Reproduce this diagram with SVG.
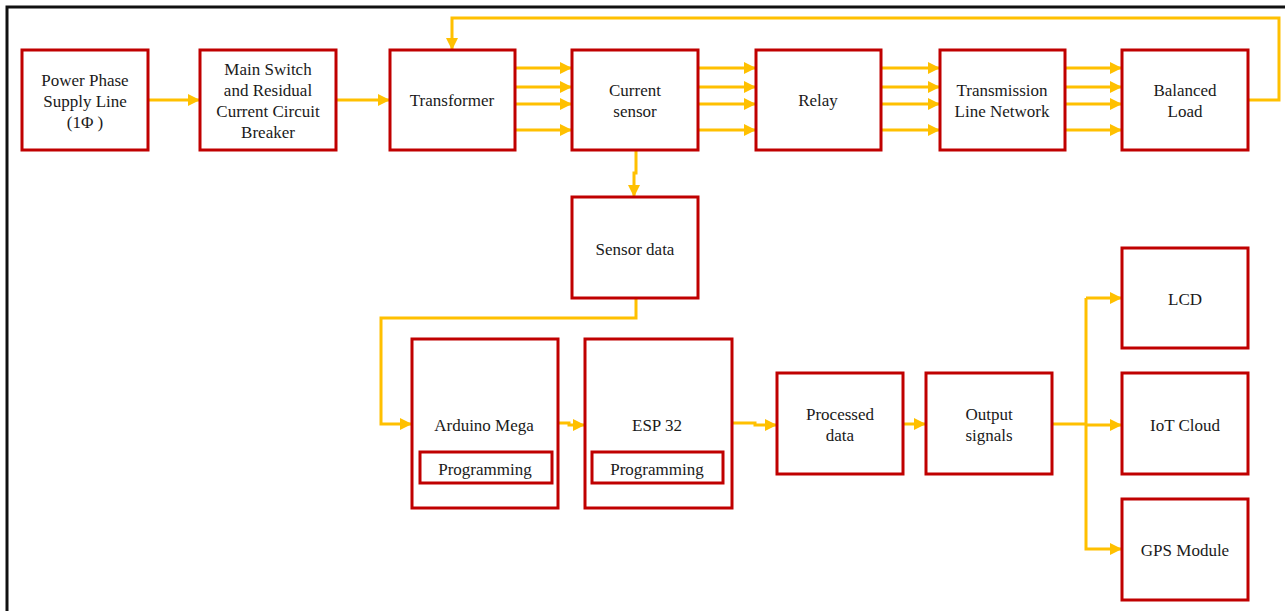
<svg xmlns="http://www.w3.org/2000/svg" width="1285" height="611" viewBox="0 0 1285 611">
<defs>
<style>
.n{fill:#fff;stroke:#C00000;stroke-width:3}
.t{font-family:"Liberation Serif","Times New Roman",Times,serif;font-size:17px;fill:#1a1a1a;text-anchor:middle}
.c{fill:none;stroke:#FFC000;stroke-width:3}
.a{marker-end:url(#ah)}
</style>
<marker id="ah" markerUnits="userSpaceOnUse" markerWidth="13" markerHeight="12" refX="12" refY="6" orient="auto">
<path d="M0,0 L12,6 L0,12 Z" fill="#FFC000"/>
</marker>
</defs>
<rect width="1285" height="611" fill="#fff"/>
<path d="M7,611 V7 H1285" fill="none" stroke="#111" stroke-width="3"/>
<g id="connectors">
<path class="c a" d="M148,100 H200"/>
<path class="c a" d="M336,100 H390"/>
<path class="c a" d="M515,68 H572"/>
<path class="c a" d="M515,87 H572"/>
<path class="c a" d="M515,104 H572"/>
<path class="c a" d="M515,130 H572"/>
<path class="c a" d="M698,68 H756"/>
<path class="c a" d="M698,87 H756"/>
<path class="c a" d="M698,104 H756"/>
<path class="c a" d="M698,130 H756"/>
<path class="c a" d="M881,68 H940"/>
<path class="c a" d="M881,87 H940"/>
<path class="c a" d="M881,104 H940"/>
<path class="c a" d="M881,130 H940"/>
<path class="c a" d="M1065,68 H1122"/>
<path class="c a" d="M1065,87 H1122"/>
<path class="c a" d="M1065,104 H1122"/>
<path class="c a" d="M1065,130 H1122"/>
<path class="c a" d="M1248,100 H1279 V18 H452 V50"/>
<path class="c a" d="M636,150 V173 H634 V197"/>
<path class="c a" d="M636,298 V318 H381 V424 H412"/>
<path class="c a" d="M558,423 H569 V425 H585"/>
<path class="c a" d="M732,423 H755 V425 H777"/>
<path class="c a" d="M903,424 H926"/>
<path class="c" d="M1052,424 H1086"/>
<path class="c a" d="M1086,298 V549 H1122"/>
<path class="c a" d="M1086,298 H1122"/>
<path class="c a" d="M1086,425 H1122"/>
</g>
<g id="power"><rect class="n" x="22" y="50" width="126" height="100"/><text class="t" x="85" y="86">Power Phase</text><text class="t" x="85" y="107">Supply Line</text><text class="t" x="85" y="128">(1Φ )</text></g>
<g id="mainswitch"><rect class="n" x="200" y="50" width="136" height="100"/><text class="t" x="268" y="75">Main Switch</text><text class="t" x="268" y="96">and Residual</text><text class="t" x="268" y="117">Current Circuit</text><text class="t" x="268" y="138">Breaker</text></g>
<g id="transformer"><rect class="n" x="390" y="50" width="125" height="100"/><text class="t" x="452" y="106">Transformer</text></g>
<g id="currentsensor"><rect class="n" x="572" y="50" width="126" height="100"/><text class="t" x="635" y="96">Current</text><text class="t" x="635" y="117">sensor</text></g>
<g id="relay"><rect class="n" x="756" y="50" width="125" height="100"/><text class="t" x="818" y="106">Relay</text></g>
<g id="transmission"><rect class="n" x="940" y="50" width="125" height="100"/><text class="t" x="1002" y="96">Transmission</text><text class="t" x="1002" y="117">Line Network</text></g>
<g id="load"><rect class="n" x="1122" y="50" width="126" height="100"/><text class="t" x="1185" y="96">Balanced</text><text class="t" x="1185" y="117">Load</text></g>
<g id="sensordata"><rect class="n" x="572" y="197" width="126" height="101"/><text class="t" x="635" y="255">Sensor data</text></g>
<g id="arduino"><rect class="n" x="412" y="339" width="146" height="169"/><text class="t" x="484" y="431">Arduino Mega</text><rect class="n" x="420" y="452" width="132" height="31"/><text class="t" x="485" y="475">Programming</text></g>
<g id="esp32"><rect class="n" x="585" y="339" width="147" height="169"/><text class="t" x="657" y="431">ESP 32</text><rect class="n" x="592" y="452" width="131" height="31"/><text class="t" x="657" y="475">Programming</text></g>
<g id="processed"><rect class="n" x="777" y="373" width="126" height="101"/><text class="t" x="840" y="420">Processed</text><text class="t" x="840" y="441">data</text></g>
<g id="output"><rect class="n" x="926" y="373" width="126" height="101"/><text class="t" x="989" y="420">Output</text><text class="t" x="989" y="441">signals</text></g>
<g id="lcd"><rect class="n" x="1122" y="248" width="126" height="100"/><text class="t" x="1185" y="305">LCD</text></g>
<g id="iot"><rect class="n" x="1122" y="373" width="126" height="101"/><text class="t" x="1185" y="431">IoT Cloud</text></g>
<g id="gps"><rect class="n" x="1122" y="499" width="126" height="101"/><text class="t" x="1185" y="556">GPS Module</text></g>
</svg>
